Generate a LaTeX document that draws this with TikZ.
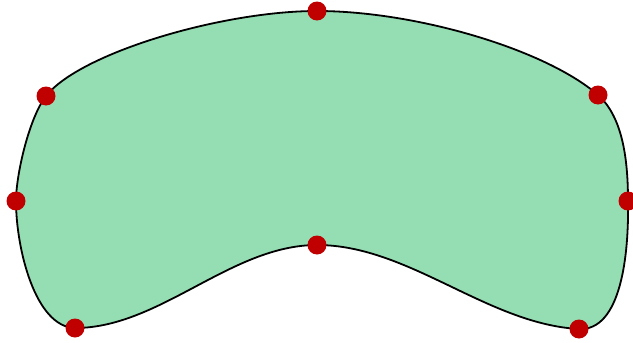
\documentclass[tikz,border=0pt]{standalone}
\definecolor{shapefill}{HTML}{95DEB4}
\definecolor{dotred}{HTML}{C00000}
\tikzset{
  outline/.style={draw=black, line width=1.8pt, fill=shapefill},
  dot/.style={circle, fill=dotred, inner sep=0pt, minimum size=19pt}
}
\begin{document}
\begin{tikzpicture}[x=1pt,y=-1pt]
\useasboundingbox (0,0) rectangle (633,343);
\coordinate (p1) at (317,11);
\coordinate (p2) at (598,95);
\coordinate (p3) at (628,201);
\coordinate (p4) at (579,329);
\coordinate (p5) at (317,245);
\coordinate (p6) at (75,328);
\coordinate (p7) at (16,201);
\coordinate (p8) at (46,96);
\draw[outline] (p1) .. controls (415,11) and (545,49) .. (p2)
  .. controls (624,118) and (628,164) .. (p3)
  .. controls (629,255) and (621,331) .. (p4)
  .. controls (487,324) and (409,245) .. (p5)
  .. controls (231,245) and (160,328) .. (p6)
  .. controls (35,327) and (16,248) .. (p7)
  .. controls (16,175) and (29,118) .. (p8)
  .. controls (80,53) and (222,11) .. (p1) -- cycle;
\foreach \p in {p1,p2,p3,p4,p5,p6,p7,p8} \node[dot] (d\p) at (\p) {};
\end{tikzpicture}
\end{document}
